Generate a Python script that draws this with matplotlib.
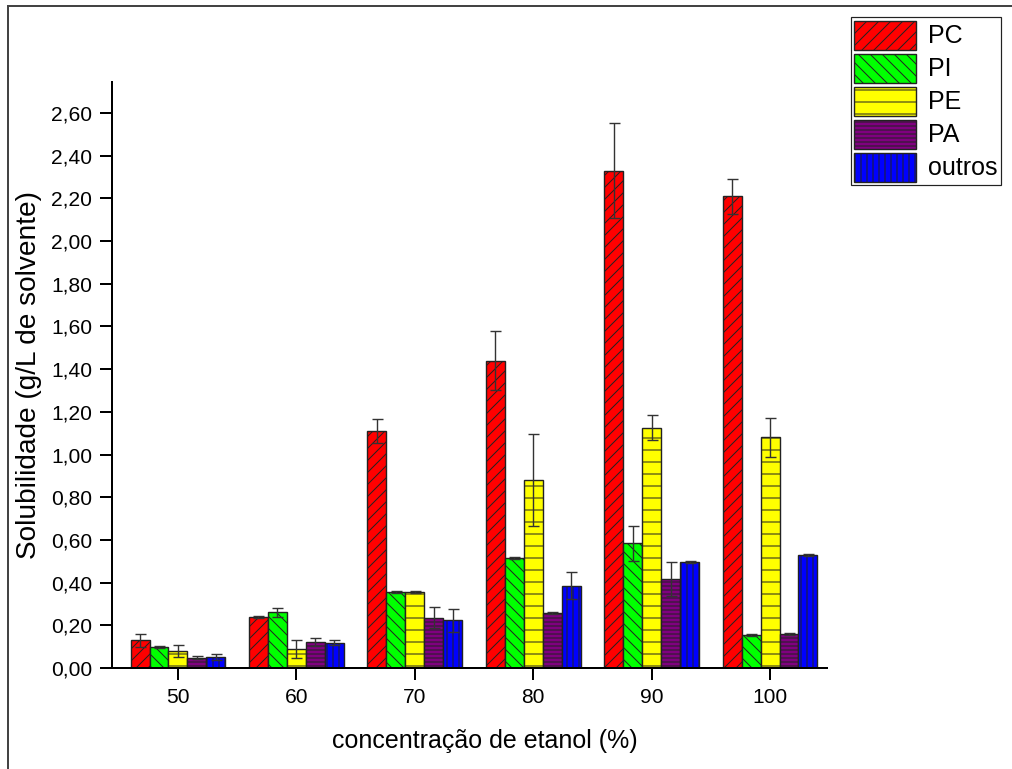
import numpy as np
import matplotlib
matplotlib.use("Agg")
import matplotlib.pyplot as plt
from matplotlib.lines import Line2D

# solubility of each phospholipid class vs ethanol concentration (g/L)
concentracoes = ["50", "60", "70", "80", "90", "100"]
series_names = ["PC", "PI", "PE", "PA", "outros"]

pc = [0.13, 0.24, 1.11, 1.44, 2.33, 2.21]
pc_err = [0.030, 0.005, 0.057, 0.137, 0.224, 0.082]
pi = [0.098, 0.26, 0.357, 0.515, 0.584, 0.155]
pi_err = [0.004, 0.019, 0.005, 0.004, 0.081, 0.003]
pe = [0.08, 0.088, 0.355, 0.88, 1.126, 1.081]
pe_err = [0.028, 0.042, 0.004, 0.215, 0.058, 0.092]
pa = [0.048, 0.123, 0.236, 0.258, 0.417, 0.159]
pa_err = [0.007, 0.019, 0.050, 0.003, 0.081, 0.003]
outros = [0.053, 0.119, 0.223, 0.386, 0.498, 0.529]
outros_err = [0.014, 0.010, 0.055, 0.062, 0.005, 0.005]

y_ticks = [0.0, 0.2, 0.4, 0.6, 0.8, 1.0, 1.2, 1.4, 1.6, 1.8, 2.0, 2.2, 2.4, 2.6]

values = [pc, pi, pe, pa, outros]
errors = [pc_err, pi_err, pe_err, pa_err, outros_err]
colors = ["#ff0000", "#00ff00", "#ffff00", "#800080", "#0000ff"]
hatches = ["//", "\\\\", "-", "---", "||"]

plt.rcParams["font.family"] = ["Liberation Sans", "DejaVu Sans"]
plt.rcParams["hatch.linewidth"] = 1.0
plt.rcParams["hatch.color"] = "black"

# dpi 72 so one point is one pixel (and the hatch tile is 72 px)
fig = plt.figure(figsize=(1012 / 72, 769 / 72), dpi=72)
ax = fig.add_axes([112 / 1012, 1 - 668 / 769, (827 - 112) / 1012, (668 - 82) / 769])

x = np.arange(len(concentracoes))
w = 0.16
for i in range(len(series_names)):
    ax.bar(x + (i - 2) * w, values[i], w, color=colors[i], hatch=hatches[i],
           edgecolor="#222222", linewidth=1.4, label=series_names[i], zorder=2)
    ax.errorbar(x + (i - 2) * w, values[i], yerr=errors[i], fmt="none",
                ecolor="#333333", elinewidth=1.4, capsize=5.5, capthick=1.4, zorder=3)

ax.set_xlim(-0.557, 5.481)
ax.set_ylim(0, 2.745)
ax.set_xticks(x)
ax.set_xticklabels(concentracoes)
ax.set_yticks(y_ticks)
ax.set_yticklabels([f"{v:.2f}".replace(".", ",") for v in y_ticks])
ax.tick_params(axis="both", labelsize=21, width=2, length=12, pad=8, colors="black")

for s in ["top", "right"]:
    ax.spines[s].set_visible(False)
for s in ["left", "bottom"]:
    ax.spines[s].set_linewidth(2)

ax.set_xlabel("concentração de etanol (%)", fontsize=25, labelpad=22)
ax.xaxis.label.set_x(0.522)
ax.set_ylabel("Solubilidade (g/L de solvente)", fontsize=28, labelpad=9)

leg = ax.legend(loc="upper right", bbox_to_anchor=(1001 / 1012, 1 - 17 / 769),
                bbox_transform=fig.transFigure, borderaxespad=0, fontsize=25,
                handlelength=2.45, handleheight=1.41, labelspacing=0.16,
                handletextpad=0.5, borderpad=0.14, fancybox=False, framealpha=1)
leg.get_frame().set_edgecolor("#222222")
leg.get_frame().set_linewidth(1.2)

# outer frame (top and left edges)
fig.add_artist(Line2D([8 / 1012, 8 / 1012], [0, 1 - 6 / 769], transform=fig.transFigure,
                      color="#444444", linewidth=2))
fig.add_artist(Line2D([8 / 1012, 1], [1 - 6 / 769, 1 - 6 / 769], transform=fig.transFigure,
                      color="#444444", linewidth=2))

fig.savefig("out.png", dpi=72)
